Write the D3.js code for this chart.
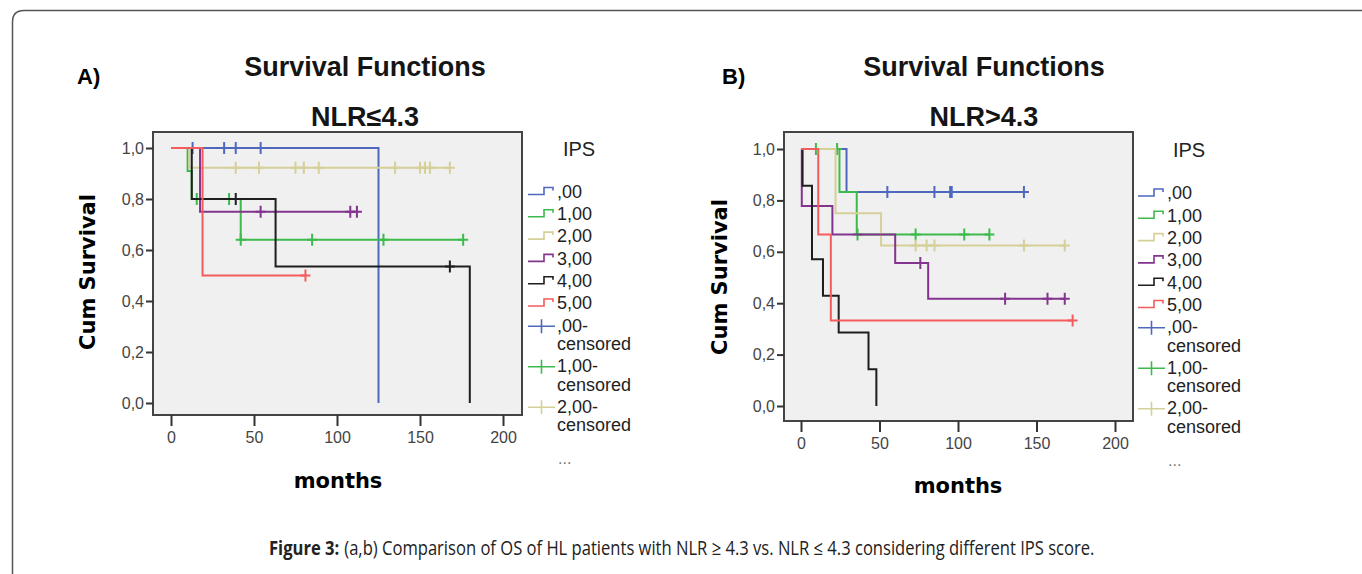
<!DOCTYPE html>
<html>
<head>
<meta charset="utf-8">
<script src="https://cdn.jsdelivr.net/npm/d3@7"></script>
<style>
  body { margin: 0; background: #fff; }
  svg { display: block; }
</style>
</head>
<body>
<div id="chart"></div>
<script>
// IPS score groups, shared by both panels
const ipsGroups = [",00", "1,00", "2,00", "3,00", "4,00", "5,00"];
const censoredLegend = [",00-", "1,00-", "2,00-"];
const ipsColors = ["#4e68be", "#3dba4c", "#d5cf98", "#83348e", "#1e1e1e", "#f35c5c"];
const monthTicks = [0, 50, 100, 150, 200];
const survivalTicks = [0, 0.2, 0.4, 0.6, 0.8, 1.0];

// Panel A (NLR <= 4.3): events per group as [month, survival after event]
const eventsA = [
  [[125, 0]],
  [[10, 0.91], [12.5, 0.80], [42, 0.64]],
  [[11, 0.923]],
  [[17.5, 0.75]],
  [[12.5, 0.80], [63, 0.535], [180, 0]],
  [[19, 0.5]]
];
// censored follow-up times per group
const censorA = [
  [13, 32, 39, 54],
  [15.5, 35, 42, 85, 128, 176],
  [39, 53, 75, 80, 89, 135, 150, 153, 156, 168],
  [54, 108, 112],
  [39, 168],
  [81]
];

// Panel B (NLR > 4.3)
const eventsB = [
  [[29, 0.833]],
  [[24.5, 0.833], [35.5, 0.667]],
  [[22, 0.75], [51, 0.625]],
  [[0.5, 0.778], [20, 0.667], [60, 0.556], [81, 0.417]],
  [[1, 0.857], [7, 0.571], [14, 0.429], [24, 0.286], [43, 0.143], [48, 0]],
  [[11, 0.667], [19, 0.333]]
];
const censorB = [
  [55, 85, 95, 96, 142],
  [9.5, 23, 36, 73, 104, 120],
  [73, 80, 85, 142, 168],
  [76, 130, 157, 168],
  [],
  [173]
];

const captionBold = "Figure 3:";
const captionText = "(a,b) Comparison of OS of HL patients with NLR \u2265 4.3 vs. NLR \u2264 4.3 considering different IPS score.";

const W = 1362, H = 574;
const svg = d3.select("#chart").append("svg")
  .attr("width", W).attr("height", H)
  .style("font-family", "'Liberation Sans', Arial, sans-serif");

// outer figure frame with rounded corner
svg.append("path")
  .attr("d", "M12.5," + H + " V22 Q12.5,10.5 24,10.5 H" + W)
  .attr("fill", "none")
  .attr("stroke", "#555")
  .attr("stroke-width", 1.5);

const commaFmt = d => d3.format(".1f")(d).replace(".", ",");

function survivalAt(events, t) {
  let s = 1;
  events.forEach(e => { if (e[0] <= t) s = e[1]; });
  return s;
}

function drawPanel(p) {
  const g = svg.append("g");
  const x = d3.scaleLinear().domain([0, 200]).range([p.x0, p.x200]);
  const y = d3.scaleLinear().domain([0, 1]).range([p.y0, p.y1]);

  // titles
  g.append("text").attr("x", p.labelX).attr("y", 84)
    .attr("font-size", 22).attr("font-weight", "bold").text(p.label);
  g.append("text").attr("x", p.titleX).attr("y", 76)
    .attr("text-anchor", "middle").attr("font-size", 27).attr("font-weight", "bold")
    .attr("fill", "#151515").text("Survival Functions");
  g.append("text").attr("x", p.titleX).attr("y", 126)
    .attr("text-anchor", "middle").attr("font-size", 27).attr("font-weight", "bold")
    .attr("fill", "#151515").text(p.subtitle);

  // plot box
  g.append("rect")
    .attr("x", p.box[0]).attr("y", p.box[1])
    .attr("width", p.box[2] - p.box[0]).attr("height", p.box[3] - p.box[1])
    .attr("fill", "#f0f0f0").attr("stroke", "#444").attr("stroke-width", 2);

  // axes
  const ya = g.append("g")
    .attr("transform", "translate(" + p.box[0] + ",0)")
    .call(d3.axisLeft(y).tickValues(survivalTicks).tickFormat(commaFmt).tickSize(7).tickPadding(2));
  const xa = g.append("g")
    .attr("transform", "translate(0," + p.box[3] + ")")
    .call(d3.axisBottom(x).tickValues(monthTicks).tickSize(11).tickPadding(6));
  [ya, xa].forEach(a => {
    a.select(".domain").remove();
    a.selectAll("line").attr("stroke", "#333").attr("stroke-width", 2);
    a.selectAll("text").attr("font-size", 16).attr("fill", "#444")
      .style("font-family", "'Liberation Sans', Arial, sans-serif");
  });

  g.append("text")
    .attr("transform", "translate(" + p.yLabelX + "," + p.yLabelY + ") rotate(-90)")
    .attr("text-anchor", "middle").attr("dominant-baseline", "central")
    .attr("font-size", 21).attr("font-weight", "bold")
    .style("font-family", "'DejaVu Sans', sans-serif")
    .text("Cum Survival");
  g.append("text")
    .attr("x", p.xLabelX).attr("y", p.xLabelY)
    .attr("text-anchor", "middle")
    .attr("font-size", 21).attr("font-weight", "bold")
    .style("font-family", "'DejaVu Sans', sans-serif")
    .text("months");

  // survival curves
  const curves = g.append("g");
  ipsGroups.forEach((name, i) => {
    const ev = p.events[i], cs = p.censor[i];
    let d = "M" + x(0) + "," + y(1);
    ev.forEach(e => { d += "H" + x(e[0]) + "V" + y(e[1]); });
    const last = ev[ev.length - 1];
    const end = d3.max(cs.concat([last[0]]));
    if (last[1] > 0 && end > last[0]) d += "H" + x(end);
    curves.append("path").attr("d", d)
      .attr("fill", "none").attr("stroke", ipsColors[i]).attr("stroke-width", 2);

    curves.selectAll(null).data(cs).enter().append("path")
      .attr("d", t => {
        const cx = x(t), cy = y(survivalAt(ev, t));
        return "M" + (cx - 5) + "," + cy + "H" + (cx + 5) + "M" + cx + "," + (cy - 6) + "V" + (cy + 6);
      })
      .attr("stroke", ipsColors[i]).attr("stroke-width", 2).attr("fill", "none");
  });

  // legend
  const lg = g.append("g").attr("transform", "translate(" + p.legX + "," + p.legY + ")");
  lg.append("text").attr("x", 51).attr("y", -36).attr("text-anchor", "middle")
    .attr("font-size", 20).attr("fill", "#222").text("IPS");
  ipsGroups.forEach((name, i) => {
    const ry = i * 22.3;
    lg.append("path")
      .attr("d", "M0," + (ry + 3) + "H16V" + (ry - 4) + "H25V" + (ry - 1))
      .attr("fill", "none").attr("stroke", ipsColors[i]).attr("stroke-width", 1.6);
    lg.append("text").attr("x", 29).attr("y", ry).attr("dy", "0.35em")
      .attr("font-size", 18).attr("fill", "#222").text(name);
  });
  censoredLegend.forEach((name, i) => {
    const ry = 6 * 22.3 + i * 40.5;
    lg.append("path")
      .attr("d", "M0," + (ry + 1) + "H27M13.5," + (ry - 6) + "V" + (ry + 8))
      .attr("fill", "none").attr("stroke", ipsColors[i]).attr("stroke-width", 1.6);
    lg.append("text").attr("x", 29).attr("y", ry).attr("dy", "0.35em")
      .attr("font-size", 18).attr("fill", "#222").text(name);
    lg.append("text").attr("x", 29).attr("y", ry + 18.5).attr("dy", "0.35em")
      .attr("font-size", 18).attr("fill", "#222").text("censored");
  });
  lg.append("text").attr("x", 30).attr("y", 6 * 22.3 + 3 * 40.5 + 12).attr("dy", "0.35em")
    .attr("font-size", 16).attr("fill", "#777").text("...");
}

drawPanel({
  label: "A)", labelX: 77, titleX: 365, subtitle: "NLR\u22644.3",
  box: [153, 132, 522, 415],
  x0: 171, x200: 503, y0: 403, y1: 148,
  yLabelX: 88, yLabelY: 272, xLabelX: 338, xLabelY: 488,
  events: eventsA, censor: censorA,
  legX: 528, legY: 191.5
});
drawPanel({
  label: "B)", labelX: 722, titleX: 984, subtitle: "NLR>4.3",
  box: [784, 132, 1133, 421],
  x0: 801, x200: 1115, y0: 406, y1: 149,
  yLabelX: 720, yLabelY: 277, xLabelX: 958, xLabelY: 493,
  events: eventsB, censor: censorB,
  legX: 1138, legY: 193
});

// caption: bold lead + plain text, squeezed horizontally to the reference width
const capG = svg.append("g");
const capInner = capG.append("g");
const t1 = capInner.append("text").attr("x", 0).attr("y", 0)
  .attr("font-size", 20).attr("font-weight", "bold").attr("fill", "#222")
  .style("font-family", "'Open Sans', sans-serif").text(captionBold);
const w1 = t1.node().getComputedTextLength();
const t2 = capInner.append("text").attr("x", w1 + 6).attr("y", 0)
  .attr("font-size", 20).attr("fill", "#222")
  .style("font-family", "'Open Sans', sans-serif").text(captionText);
const wTot = w1 + 6 + t2.node().getComputedTextLength();
const capW = 826;
capG.attr("transform", "translate(" + (682 - capW / 2) + ",555) scale(" + (capW / wTot) + ",1)");
</script>
</body>
</html>
